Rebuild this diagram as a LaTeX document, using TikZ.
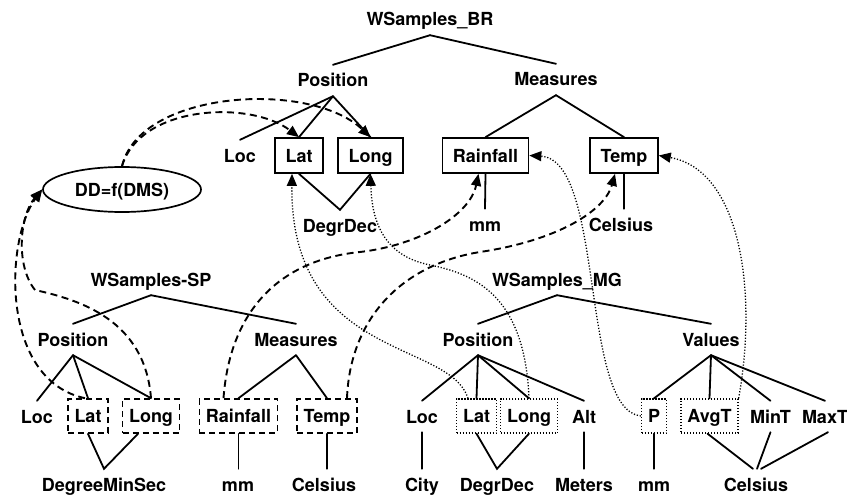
\documentclass[tikz,border=0pt]{standalone}
\usepackage{fontspec}
\setmainfont{TeX Gyre Heros}
\usetikzlibrary{arrows.meta,shapes.geometric,calc}
\begin{document}
\begin{tikzpicture}[x=1pt,y=-1pt,
  every node/.style={font=\fontsize{18}{20}\selectfont\bfseries, text height=13pt, text depth=0pt},
  lbl/.style={anchor=base, inner xsep=2pt, inner ysep=9pt},
  topbox/.style={anchor=base, draw, line width=1.7pt, inner xsep=10.5pt, inner ysep=11pt},
  dbox/.style={anchor=base, draw, line width=1.6pt, dash pattern=on 6pt off 4pt, inner xsep=6.5pt, inner ysep=10.5pt},
  obox/.style={anchor=base, draw, line width=1.3pt, dash pattern=on 1.2pt off 1.8pt, inner xsep=6.5pt, inner ysep=10.5pt},
  tree/.style={line width=1.8pt, line cap=round},
  dlink/.style={line width=1.9pt, dash pattern=on 7pt off 4.5pt, -{Triangle[length=12pt,width=10pt]}},
  olink/.style={line width=1.3pt, dash pattern=on 1.2pt off 1.8pt, -{Triangle[length=12pt,width=10pt]}},
  ellnode/.style={draw, ellipse, line width=1.7pt, minimum width=158pt, minimum height=45pt, inner sep=0pt}
]
\useasboundingbox (0,0) rectangle (847,495);

% ---------- BR tree ----------
\node[lbl] (wsBR) at (430,26) {WSamples\_BR};
\node[lbl] (posBR) at (333,87) {Position};
\node[lbl] (meaBR) at (556,86) {Measures};
\node[lbl] (locBR) at (240,162) {Loc};
\node[topbox] (latBR) at (299,162) {Lat};
\node[topbox] (longBR) at (370.5,162) {Long};
\node[topbox] (rainBR) at (485.5,162) {Rainfall};
\node[topbox] (tempBR) at (624,162) {Temp};
\node[lbl] (degBR) at (340,232) {DegrDec};
\node[lbl] (mmBR) at (485,231) {mm};
\node[lbl] (celBR) at (621,231) {Celsius};

\node[ellnode] (ell) at (122,189.5) {DD=f(DMS)};

% ---------- SP tree ----------
\node[lbl] (wsSP) at (151,286) {WSamples-SP};
\node[lbl] (posSP) at (73,346) {Position};
\node[lbl] (meaSP) at (296,346) {Measures};
\node[lbl] (locSP) at (37,423) {Loc};
\node[dbox] (latSP) at (88,422.5) {Lat};
\node[dbox] (longSP) at (151,422.5) {Long};
\node[dbox] (rainSP) at (238.5,422.5) {Rainfall};
\node[dbox] (tempSP) at (327,422.5) {Temp};
\node[lbl] (dmsSP) at (104,491) {DegreeMinSec};
\node[lbl] (mmSP) at (238,491) {mm};
\node[lbl] (celSP) at (324,491) {Celsius};

% ---------- MG tree ----------
\node[lbl] (wsMG) at (557,286) {WSamples\_MG};
\node[lbl] (posMG) at (478,346) {Position};
\node[lbl] (valMG) at (711,346) {Values};
\node[lbl] (locMG) at (422,423) {Loc};
\node[obox] (latMG) at (476.5,422.5) {Lat};
\node[obox] (longMG) at (529,422.5) {Long};
\node[lbl] (altMG) at (584,423) {Alt};
\node[obox] (pMG) at (654,422.5) {P};
\node[obox] (avgMG) at (709.5,422.5) {AvgT};
\node[lbl] (minMG) at (770.5,423) {MinT};
\node[lbl] (maxMG) at (825,423) {MaxT};
\node[lbl] (cityMG) at (422,491) {City};
\node[lbl] (degMG) at (497,491) {DegrDec};
\node[lbl] (metMG) at (584,491) {Meters};
\node[lbl] (mmMG) at (654,491) {mm};
\node[lbl] (celMG) at (756,491) {Celsius};

% ---------- tree edges ----------
\draw[tree] (wsBR.south) -- (posBR.north);
\draw[tree] (wsBR.south) -- (meaBR.north);
\draw[tree] (posBR.south) -- (locBR.north);
\draw[tree] (posBR.south) -- (latBR.north);
\draw[tree] (posBR.south) -- (longBR.north);
\draw[tree] (meaBR.south) -- (rainBR.north);
\draw[tree] (meaBR.south) -- (tempBR.north);
\draw[tree] (latBR.south) -- (degBR.north) -- (longBR.south);
\draw[tree] (rainBR.south) -- (mmBR.north);
\draw[tree] (tempBR.south) -- (tempBR.south |- celBR.north);

\draw[tree] (wsSP.south) -- (posSP.north);
\draw[tree] (wsSP.south) -- (meaSP.north);
\draw[tree] (posSP.south) -- (locSP.north);
\draw[tree] (posSP.south) -- (latSP.north);
\draw[tree] (posSP.south) -- (longSP.north);
\draw[tree] (meaSP.south) -- (rainSP.north);
\draw[tree] (meaSP.south) -- (tempSP.north);
\draw[tree] (latSP.south) -- (dmsSP.north) -- ([xshift=-13pt]longSP.south);
\draw[tree] (rainSP.south) -- (rainSP.south |- mmSP.north);
\draw[tree] (tempSP.south) -- (tempSP.south |- celSP.north);

\draw[tree] (wsMG.south) -- (posMG.north);
\draw[tree] (wsMG.south) -- (valMG.north);
\draw[tree] (posMG.south) -- (locMG.north);
\draw[tree] (posMG.south) -- (latMG.north);
\draw[tree] (posMG.south) -- (longMG.north);
\draw[tree] (posMG.south) -- (altMG.north);
\draw[tree] (valMG.south) -- (pMG.north);
\draw[tree] (valMG.south) -- (avgMG.north);
\draw[tree] (valMG.south) -- (minMG.north);
\draw[tree] (valMG.south) -- (maxMG.north);
\draw[tree] (locMG.south) -- (cityMG.north);
\draw[tree] (latMG.south) -- (degMG.north) -- (longMG.south);
\draw[tree] (altMG.south) -- (metMG.north);
\draw[tree] (pMG.south) -- (pMG.south |- mmMG.north);
\draw[tree] ([xshift=-2pt]avgMG.south) -- ([xshift=-3pt]celMG.north);
\draw[tree] (minMG.south) -- ([xshift=1pt]celMG.north);
\draw[tree] ([xshift=3pt]maxMG.south) -- ([xshift=5pt]celMG.north);

% ---------- dashed mappings ----------
\draw[dlink] (ell.north) .. controls (140,105) and (250,100) .. (latBR.north);
\draw[dlink] (ell.north) .. controls (140,90) and (310,80) .. (longBR.north);
\draw[dlink] ([xshift=-3pt]latSP.north) .. controls (0,380) and (5,240) .. (ell.west);
\draw[dlink] (longSP.north) .. controls (145,320) and (80,300) .. (35,290) .. controls (15,265) and (20,215) .. (ell.west);
\draw[dlink] ([xshift=-15pt]rainSP.north) .. controls (230,310) and (280,260) .. (360,252) .. controls (420,245) and (470,215) .. ([xshift=-7pt]rainBR.south);
\draw[dlink] ([xshift=20pt]tempSP.north) .. controls (350,320) and (400,265) .. (480,252) .. controls (560,240) and (605,210) .. ([xshift=-9pt]tempBR.south);

% ---------- dotted mappings ----------
\draw[olink] ([xshift=-8.5pt]latMG.north) .. controls (450,340) and (290,360) .. ([xshift=-7pt]latBR.south);
\draw[olink] (longMG.north) .. controls (525,300) and (480,275) .. (430,265) .. controls (390,257) and (372,230) .. (longBR.south);
\draw[olink] (pMG.west) .. controls (580,410) and (605,160) .. (rainBR.east);
\draw[olink] (avgMG.north east) .. controls (758,290) and (740,170) .. (tempBR.east);
\end{tikzpicture}
\end{document}
